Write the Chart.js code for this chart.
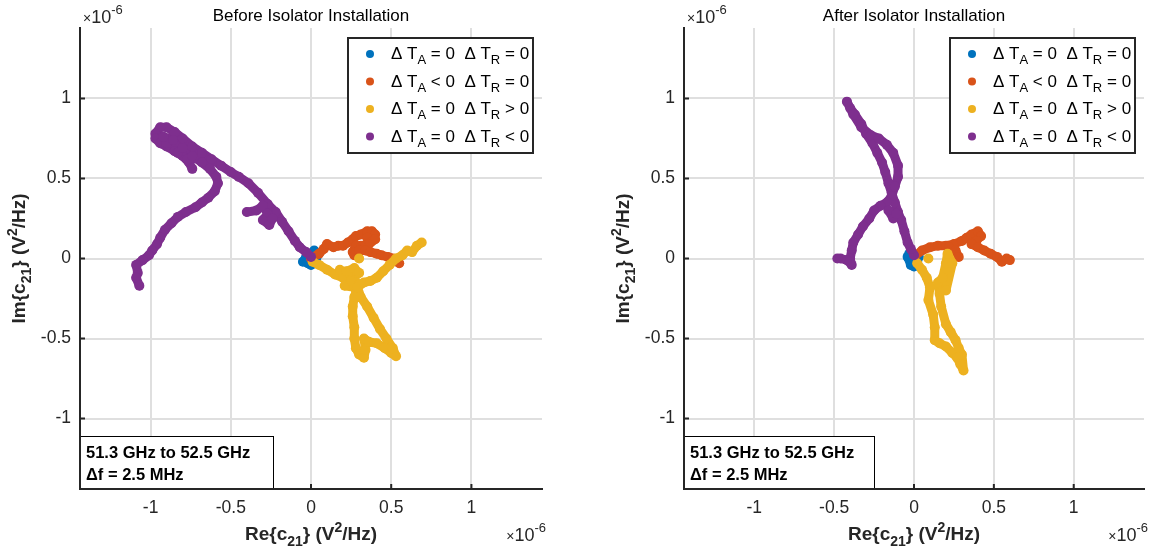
<!DOCTYPE html>
<html>
<head>
<meta charset="utf-8">
<script src="https://cdn.jsdelivr.net/npm/chart.js@4.4.1/dist/chart.umd.min.js"></script>
<style>
  body { margin: 0; background: #fff; }
  #wrap { position: relative; width: 1150px; height: 558px; }
  canvas { position: absolute; top: 0; }
</style>
</head>
<body>
<div id="wrap">
  <canvas id="before" width="575" height="558" style="left:0px"></canvas>
  <canvas id="after" width="575" height="558" style="left:575px"></canvas>
</div>
<script>
// values in units of 1e-6 V^2/Hz. null = gap in the trace
const tickVals = [-1, -0.5, 0, 0.5, 1];
const legendOps = [["=", "="], ["<", "="], ["=", ">"], ["=", "<"]];
const colors = ["#0072BD", "#D95319", "#EDB120", "#7E2F8E"];

// Before isolator
const beforeRefRe = [-0.05, -0.03, 0.0, 0.03, 0.04, 0.02, -0.02, 0.01];
const beforeRefIm = [-0.02, 0.01, -0.04, -0.02, 0.02, 0.05, -0.03, 0.0];
const beforeAntRe = [0.0, 0.05, 0.08, 0.1, 0.14, 0.17, 0.2, 0.23, 0.26, 0.28, 0.31, 0.35, 0.38, 0.4, 0.39, 0.35, 0.37, 0.4, 0.36, 0.31, 0.28, 0.26, 0.27, 0.3, 0.34, 0.37, 0.41, 0.44, 0.48, 0.51, 0.53, 0.55];
const beforeAntIm = [0.0, 0.03, 0.06, 0.09, 0.07, 0.08, 0.08, 0.1, 0.12, 0.14, 0.15, 0.17, 0.17, 0.15, 0.12, 0.13, 0.1, 0.12, 0.09, 0.08, 0.08, 0.04, 0.02, 0.05, 0.05, 0.04, 0.03, 0.02, 0.01, 0.0, -0.01, -0.03];
const beforeHotRe = [0.01, 0.05, 0.1, 0.15, 0.2, 0.18, 0.24, 0.21, 0.27, 0.23, 0.22, 0.27, 0.3, 0.25, 0.28, 0.3, 0.27, 0.26, 0.26, 0.27, 0.27, 0.28, 0.3, 0.33, 0.34, 0.33, 0.36, 0.41, 0.46, 0.5, 0.53, 0.51, 0.47, 0.43, 0.39, 0.35, 0.31, 0.29, 0.33, 0.37, 0.41, 0.45, 0.49, 0.53, 0.57, 0.6, 0.63, 0.66, 0.69, null, 0.3];
const beforeHotIm = [-0.02, -0.04, -0.07, -0.1, -0.12, -0.07, -0.12, -0.17, -0.18, -0.09, -0.08, -0.06, -0.09, -0.14, -0.2, -0.16, -0.24, -0.3, -0.36, -0.43, -0.5, -0.56, -0.6, -0.62, -0.57, -0.5, -0.52, -0.53, -0.56, -0.59, -0.61, -0.56, -0.5, -0.44, -0.37, -0.3, -0.24, -0.18, -0.15, -0.14, -0.12, -0.08, -0.04, 0.0, 0.02, 0.05, 0.04, 0.08, 0.1, null, 0.0];
const beforeColdRe = [0.0, -0.03, -0.07, -0.1, -0.14, -0.18, -0.22, -0.27, -0.33, -0.39, -0.45, -0.5, -0.56, -0.62, -0.68, -0.74, -0.8, -0.85, -0.9, -0.94, -0.97, -0.97, -0.94, -0.9, -0.85, -0.8, -0.76, -0.74, -0.77, -0.83, -0.9, -0.92, -0.86, -0.8, -0.74, -0.68, -0.63, -0.59, -0.58, -0.6, -0.64, -0.68, -0.72, -0.78, -0.83, -0.87, -0.91, -0.94, -0.96, -0.99, -1.01, -1.05, -1.09, -1.08, -1.09, -1.07, null, -0.4, -0.34, -0.3, -0.27, -0.3, -0.26, -0.24];
const beforeColdIm = [0.01, 0.04, 0.07, 0.11, 0.17, 0.23, 0.29, 0.34, 0.41, 0.47, 0.51, 0.54, 0.58, 0.62, 0.66, 0.7, 0.75, 0.79, 0.82, 0.82, 0.78, 0.75, 0.72, 0.7, 0.67, 0.64, 0.6, 0.56, 0.62, 0.66, 0.72, 0.76, 0.74, 0.69, 0.64, 0.6, 0.56, 0.51, 0.47, 0.42, 0.38, 0.35, 0.32, 0.29, 0.26, 0.22, 0.18, 0.13, 0.09, 0.05, 0.02, -0.01, -0.04, -0.09, -0.12, -0.17, null, 0.29, 0.3, 0.33, 0.28, 0.24, 0.21, 0.25];

// After isolator
const afterRefRe = [-0.04, -0.02, 0.0, 0.02, 0.03, -0.03, 0.0, -0.01];
const afterRefIm = [0.01, -0.04, -0.05, -0.02, 0.01, 0.03, 0.02, -0.01];
const afterAntRe = [0.01, 0.05, 0.1, 0.15, 0.2, 0.25, 0.3, 0.33, 0.36, 0.4, 0.42, 0.39, 0.36, 0.4, 0.44, 0.48, 0.52, 0.55, 0.58, 0.6, null, 0.22, 0.26, 0.28];
const afterAntIm = [0.02, 0.05, 0.07, 0.08, 0.08, 0.09, 0.11, 0.13, 0.15, 0.17, 0.14, 0.11, 0.09, 0.07, 0.05, 0.03, 0.01, -0.02, 0.0, -0.01, null, 0.07, 0.05, 0.01];
const afterHotRe = [0.02, 0.05, 0.08, 0.1, 0.09, 0.12, 0.13, 0.13, 0.16, 0.2, 0.24, 0.27, 0.29, 0.31, 0.3, 0.28, 0.26, 0.23, 0.2, 0.17, 0.16, 0.15, 0.18, 0.2, 0.21, 0.24, 0.2, null, 0.09];
const afterHotIm = [-0.03, -0.07, -0.12, -0.18, -0.26, -0.35, -0.43, -0.51, -0.53, -0.55, -0.59, -0.62, -0.66, -0.7, -0.6, -0.56, -0.51, -0.46, -0.41, -0.3, -0.22, -0.15, -0.12, -0.03, 0.03, -0.03, -0.2, null, 0.0];
const afterColdRe = [0.0, -0.02, -0.04, -0.06, -0.08, -0.1, -0.12, -0.14, -0.16, -0.18, -0.2, -0.23, -0.26, -0.3, -0.33, -0.37, -0.4, -0.42, -0.38, -0.33, -0.27, -0.22, -0.17, -0.13, -0.1, -0.1, -0.12, -0.14, -0.17, -0.21, -0.25, -0.28, -0.32, -0.35, -0.38, -0.39, -0.4, -0.39, -0.42, -0.46, -0.48, null, -0.16, -0.13, -0.11];
const afterColdIm = [0.02, 0.06, 0.1, 0.17, 0.24, 0.29, 0.35, 0.41, 0.47, 0.54, 0.6, 0.66, 0.72, 0.78, 0.84, 0.9, 0.94, 0.98, 0.9, 0.82, 0.77, 0.75, 0.71, 0.66, 0.58, 0.51, 0.45, 0.39, 0.35, 0.33, 0.3, 0.25, 0.2, 0.15, 0.1, 0.05, 0.0, -0.04, -0.01, 0.0, 0.0, null, 0.3, 0.25, 0.28];

const FONT = '"Liberation Sans", Arial, sans-serif';

function toPoints(re, im) {
  return re.map((v, i) => ({ x: v, y: im[i] }));
}

// draw a run of text pieces [text, size, bold, dy]
function richText(ctx, x, y, parts, align) {
  let w = 0;
  parts.forEach(p => {
    ctx.font = (p[2] ? 'bold ' : '') + p[1] + 'px ' + FONT;
    w += ctx.measureText(p[0]).width;
  });
  let cx = align === 'center' ? x - w / 2 : (align === 'right' ? x - w : x);
  ctx.textAlign = 'left';
  ctx.textBaseline = 'alphabetic';
  parts.forEach(p => {
    ctx.font = (p[2] ? 'bold ' : '') + p[1] + 'px ' + FONT;
    ctx.fillText(p[0], cx, y + (p[3] || 0));
    cx += ctx.measureText(p[0]).width;
  });
}

const overlay = {
  id: 'overlay',
  afterDraw(chart) {
    const ctx = chart.ctx;
    const a = chart.chartArea;
    const xs = chart.scales.x, ys = chart.scales.y;
    const cxm = (a.left + a.right) / 2;
    ctx.save();

    // inward ticks
    ctx.strokeStyle = '#262626';
    ctx.lineWidth = 2;
    tickVals.forEach(v => {
      const px = xs.getPixelForValue(v);
      const py = ys.getPixelForValue(v);
      ctx.beginPath();
      ctx.moveTo(px, a.bottom); ctx.lineTo(px, a.bottom - 5);
      ctx.moveTo(a.left, py); ctx.lineTo(a.left + 5, py);
      ctx.stroke();
    });

    ctx.fillStyle = '#000';
    ctx.font = '17px ' + FONT;
    ctx.textAlign = 'center';
    ctx.textBaseline = 'alphabetic';
    ctx.fillText(chart.options.plugins.overlay.title, cxm, 21);

    ctx.fillStyle = '#262626';
    const exp = [['\u00d7', 14, false, 0], ['10', 18, false, 0], ['-6', 13, false, -9]];
    richText(ctx, a.left + 3, 23, exp, 'left');
    richText(ctx, a.right + 4, 541, exp, 'right');

    // axis titles
    const lab = (name) => [[name + '{c', 19, true, 0], ['21', 14, true, 6], ['} (V', 19, true, 0], ['2', 14, true, -8], ['/Hz)', 19, true, 0]];
    ctx.fillStyle = '#262626';
    richText(ctx, cxm, 540, lab('Re'), 'center');
    ctx.save();
    ctx.translate(a.left - 55, (a.top + a.bottom) / 2);
    ctx.rotate(-Math.PI / 2);
    richText(ctx, 0, 0, lab('Im'), 'center');
    ctx.restore();

    // legend
    const bw = 185, bh = 115;
    const bx = a.right - 9 - bw, by = 38;
    ctx.fillStyle = '#fff';
    ctx.fillRect(bx, by, bw, bh);
    ctx.strokeStyle = '#262626';
    ctx.lineWidth = 2;
    ctx.strokeRect(bx, by, bw, bh);
    legendOps.forEach((ops, i) => {
      const ry = by + 16 + i * 27.5;
      ctx.fillStyle = colors[i];
      ctx.beginPath();
      ctx.arc(bx + 22, ry, 4, 0, Math.PI * 2);
      ctx.fill();
      ctx.fillStyle = '#000';
      richText(ctx, bx + 43, ry + 5, [
        ['\u0394 T', 17, false, 0], ['A', 13, false, 5],
        [' ' + ops[0] + ' 0  \u0394 T', 17, false, 0], ['R', 13, false, 5],
        [' ' + ops[1] + ' 0', 17, false, 0]
      ], 'left');
    });

    // frequency box
    const fw = chart.options.plugins.overlay.boxW;
    ctx.fillStyle = '#fff';
    ctx.fillRect(a.left, 436, fw, a.bottom - 436);
    ctx.strokeStyle = '#000';
    ctx.lineWidth = 1;
    ctx.strokeRect(a.left + 0.5, 436.5, fw, a.bottom - 436.5);
    ctx.fillStyle = '#000';
    richText(ctx, a.left + 6, 458, [['51.3 GHz to 52.5 GHz', 16.5, true, 0]], 'left');
    richText(ctx, a.left + 6, 480, [['\u0394f = 2.5 MHz', 16.5, true, 0]], 'left');

    // redraw axes over the box
    ctx.strokeStyle = '#262626';
    ctx.lineWidth = 2;
    ctx.beginPath();
    ctx.moveTo(a.left, a.top); ctx.lineTo(a.left, a.bottom); ctx.lineTo(a.right, a.bottom);
    ctx.stroke();
    ctx.restore();
  }
};

function makeChart(id, title, series, leftW, rightPad, boxW) {
  const datasets = series.map((s, i) => ({
    data: toPoints(s[0], s[1]),
    showLine: true,
    spanGaps: false,
    borderColor: colors[i],
    backgroundColor: colors[i],
    borderWidth: 9,
    borderCapStyle: 'round',
    borderJoinStyle: 'round',
    pointRadius: 5,
    pointBorderWidth: 0,
    pointHoverRadius: 5,
    order: 4 - i
  }));
  const axis = (fit) => ({
    type: 'linear',
    min: -1.44,
    max: 1.44,
    afterBuildTicks: s => { s.ticks = tickVals.map(v => ({ value: v })); },
    afterFit: fit,
    grid: { color: '#dfdfdf', lineWidth: 2, drawTicks: false },
    border: { display: true, color: '#262626', width: 2 },
    ticks: { color: '#262626', font: { size: 17.5, family: FONT }, padding: 9, callback: v => String(v) }
  });
  return new Chart(document.getElementById(id), {
    type: 'scatter',
    data: { datasets: datasets },
    options: {
      responsive: false,
      animation: false,
      devicePixelRatio: 1,
      layout: { padding: { left: 0, right: rightPad, top: 28, bottom: 0 } },
      plugins: {
        legend: { display: false },
        tooltip: { enabled: false },
        overlay: { title: title, boxW: boxW }
      },
      scales: {
        x: axis(s => { s.height = 69; }),
        y: axis(s => { s.width = leftW; })
      }
    },
    plugins: [overlay]
  });
}

makeChart('before', 'Before Isolator Installation', [
  [beforeRefRe, beforeRefIm], [beforeAntRe, beforeAntIm], [beforeHotRe, beforeHotIm], [beforeColdRe, beforeColdIm]
], 80, 33, 193);

makeChart('after', 'After Isolator Installation', [
  [afterRefRe, afterRefIm], [afterAntRe, afterAntIm], [afterHotRe, afterHotIm], [afterColdRe, afterColdIm]
], 109, 6, 190);
</script>
</body>
</html>
